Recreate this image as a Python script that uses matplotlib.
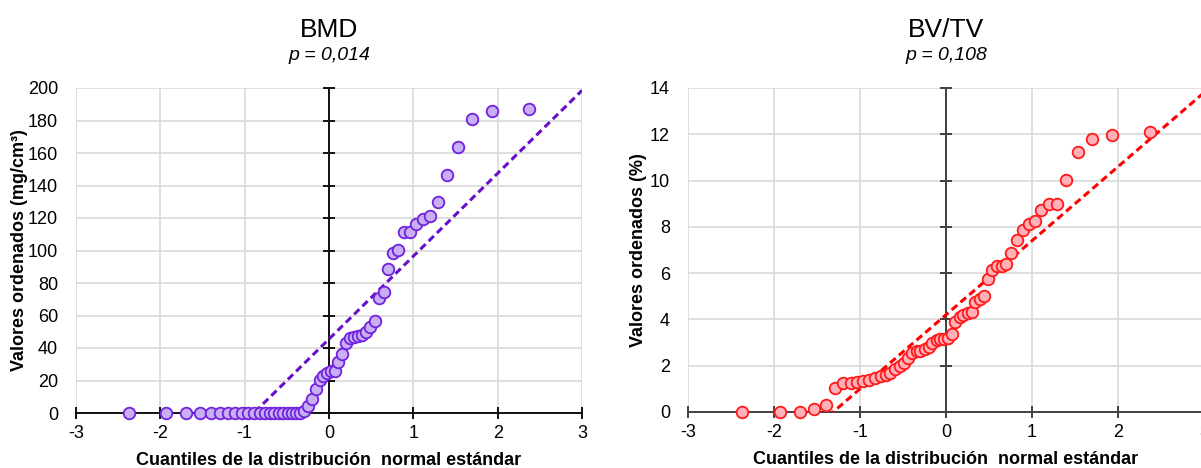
import numpy as np
import matplotlib
matplotlib.use("Agg")
import matplotlib.pyplot as plt

plt.rcParams['font.family'] = ['Liberation Sans', 'DejaVu Sans']
plt.rcParams['axes.unicode_minus'] = False

# theoretical quantiles (x), same for both panels
cuantiles = [-2.37, -1.93, -1.70, -1.53, -1.40, -1.29, -1.20, -1.11, -1.03, -0.96,
             -0.89, -0.82, -0.76, -0.70, -0.65, -0.59, -0.54, -0.49, -0.44, -0.39,
             -0.34, -0.30, -0.25, -0.20, -0.16, -0.11, -0.07, -0.02, 0.02, 0.07,
             0.11, 0.16, 0.20, 0.25, 0.30, 0.34, 0.39, 0.44, 0.49, 0.54,
             0.59, 0.65, 0.70, 0.76, 0.82, 0.89, 0.96, 1.03, 1.11, 1.20,
             1.29, 1.40, 1.53, 1.70, 1.93, 2.37]

bmd = [0, 0, 0, 0, 0, 0, 0, 0, 0, 0,
       0, 0, 0, 0, 0, 0, 0, 0, 0, 0,
       0, 1.0, 4.5, 8.8, 14.7, 20.4, 22.9, 24.5, 25.6, 25.6,
       31.3, 36.4, 42.9, 46.4, 47.0, 47.4, 48.3, 50.1, 53.2, 56.6,
       71.0, 74.2, 88.5, 98.6, 100.4, 111.2, 111.2, 116.2, 119.4, 121.3,
       129.9, 146.4, 163.4, 181.0, 186.0, 187.0]

bvtv = [0.02, 0.02, 0.02, 0.15, 0.32, 1.05, 1.27, 1.27, 1.30, 1.34,
        1.40, 1.46, 1.55, 1.62, 1.70, 1.85, 2.00, 2.12, 2.35, 2.55,
        2.62, 2.65, 2.72, 2.83, 3.00, 3.10, 3.14, 3.15, 3.19, 3.37,
        3.88, 4.09, 4.17, 4.26, 4.30, 4.74, 4.87, 5.01, 5.73, 6.15,
        6.33, 6.33, 6.39, 6.86, 7.43, 7.86, 8.12, 8.26, 8.72, 8.98,
        8.98, 10.03, 11.22, 11.79, 11.99, 12.10]

# reference lines (mean + sd * z)
bmd_line = (45.5, 51.0)
bvtv_line = (4.2, 3.2)

xticks = [-3, -2, -1, 0, 1, 2, 3]
bmd_yticks = list(range(0, 201, 20))
bvtv_yticks = list(range(0, 15, 2))

fig = plt.figure(figsize=(12.01, 4.68), dpi=100)


def qq_panel(rect, y, line, yticks, ylabel, ylab_x, title, pval, edge, face, lcolor, axcolor):
    ax = fig.add_axes(rect)
    ax.set_xlim(-3, 3)
    ax.set_ylim(yticks[0], yticks[-1])
    ax.set_xticks(xticks)
    ax.set_yticks(yticks)
    ax.grid(color='#d9d9d9', lw=1.2)
    ax.set_axisbelow(True)
    for s in ['left', 'right', 'top']:
        ax.spines[s].set_visible(False)
    ax.spines['bottom'].set_color(axcolor)
    ax.spines['bottom'].set_linewidth(1.4)
    ax.spines['bottom'].set_zorder(2.5)
    ax.tick_params(axis='x', direction='inout', length=9, width=1.4, color=axcolor,
                   labelsize=13, pad=4)
    ax.tick_params(axis='y', length=0, labelsize=13, pad=13)

    # vertical axis crossing at x = 0, with its tick marks
    ax.axvline(0, color=axcolor, lw=1.4, zorder=2.5)
    ax.plot(np.zeros(len(yticks)), yticks, ls='none', marker='_', ms=9, mew=1.4,
            color=axcolor, zorder=2.5, clip_on=False)

    xl = np.array([-3, 3])
    ax.plot(xl, line[0] + line[1] * xl, ls='--', color=lcolor, lw=2.2,
            dashes=(2.4, 1.4), zorder=3)
    ax.scatter(cuantiles, y, s=70, facecolor=face, edgecolor=edge, lw=1.3,
               zorder=4, clip_on=False)

    ax.set_xlabel('Cuantiles de la distribución  normal estándar', fontsize=13,
                  fontweight='bold')
    ax.xaxis.set_label_coords(0.5, -0.12)
    ax.set_ylabel(ylabel, fontsize=13, fontweight='bold')
    ax.yaxis.set_label_coords(ylab_x, 0.5)
    ax.text(0.5, 1.157, title, transform=ax.transAxes, ha='center', va='baseline',
            fontsize=19)
    ax.text(0.5, 1.086, pval, transform=ax.transAxes, ha='center', va='baseline',
            fontsize=14, style='italic')
    return ax


qq_panel([76 / 1201, 55 / 468, 506 / 1201, 325 / 468], bmd, bmd_line, bmd_yticks,
         'Valores ordenados (mg/cm³)', -0.095, 'BMD', 'p = 0,014',
         '#7022DD', '#C8AEF2', '#6610CC', '#111111')
qq_panel([688 / 1201, 56 / 468, 516 / 1201, 324 / 468], bvtv, bvtv_line, bvtv_yticks,
         'Valores ordenados (%)', -0.08, 'BV/TV', 'p = 0,108',
         '#FF1A1A', '#FFB0B8', '#FF0000', '#404040')

fig.savefig('out.png', dpi=100)
